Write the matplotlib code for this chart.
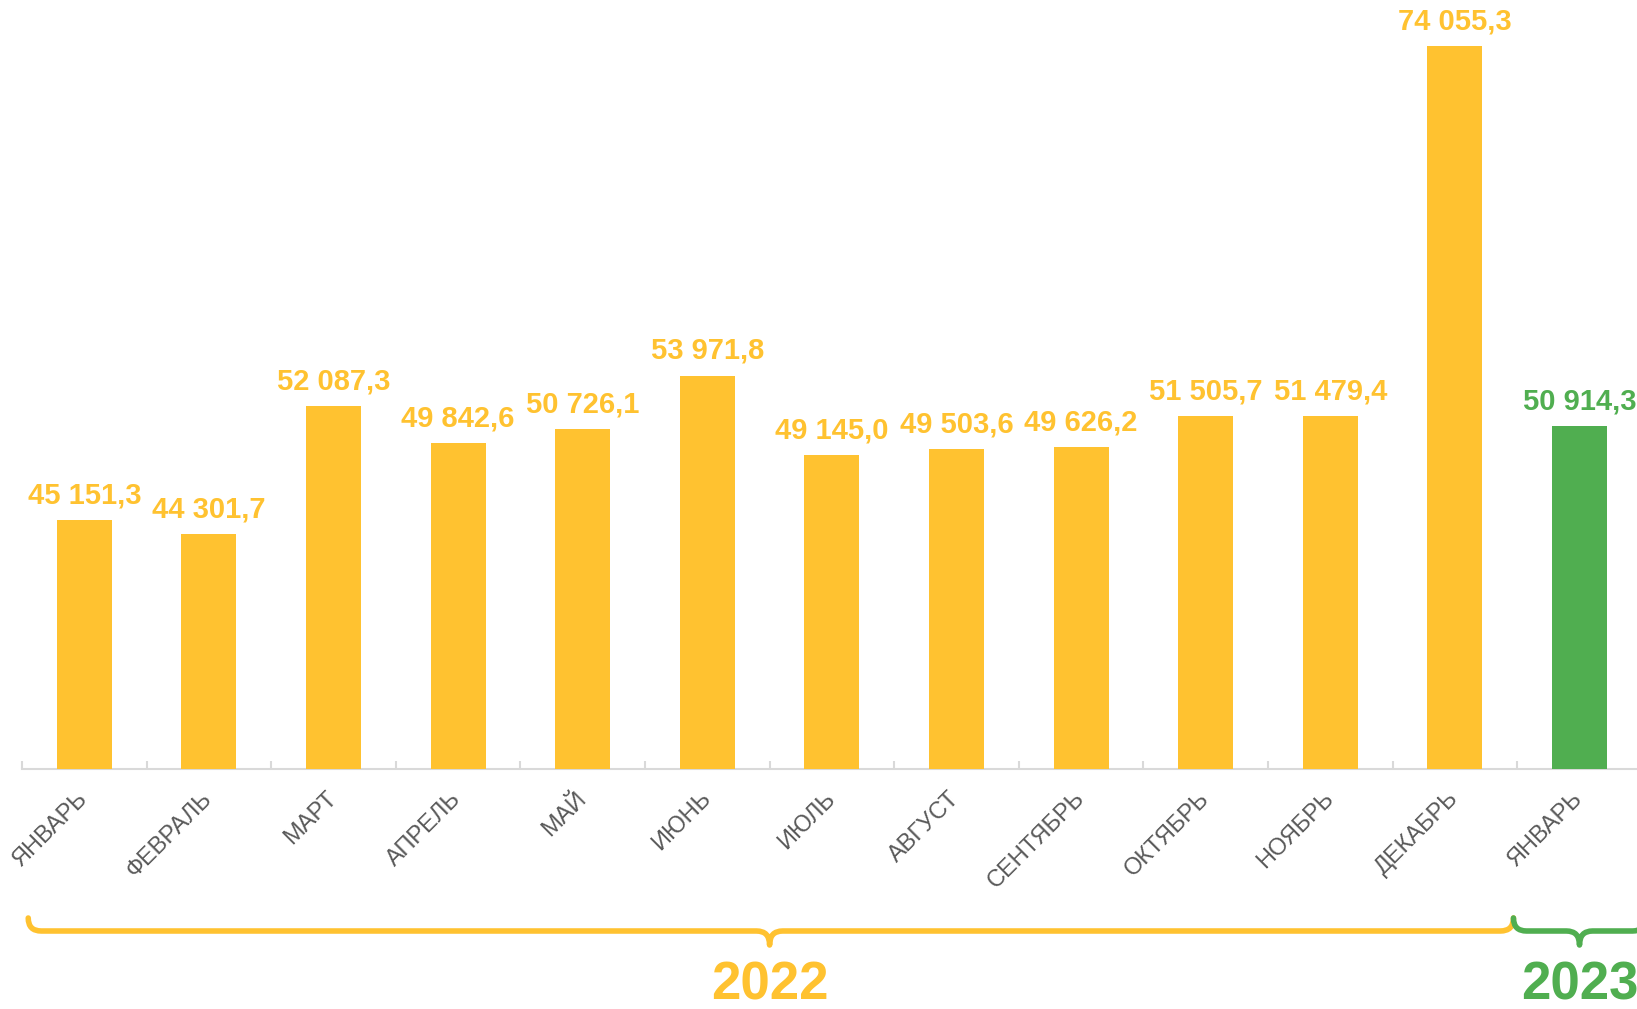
import matplotlib
matplotlib.use("Agg")
from matplotlib import pyplot as plt
from matplotlib.path import Path
from matplotlib.patches import PathPatch
import matplotlib.transforms as mtransforms

plt.rcParams['font.family'] = ['Liberation Sans', 'DejaVu Sans']

months = ["ЯНВАРЬ", "ФЕВРАЛЬ", "МАРТ", "АПРЕЛЬ", "МАЙ", "ИЮНЬ", "ИЮЛЬ",
          "АВГУСТ", "СЕНТЯБРЬ", "ОКТЯБРЬ", "НОЯБРЬ", "ДЕКАБРЬ", "ЯНВАРЬ"]
values = [45151.3, 44301.7, 52087.3, 49842.6, 50726.1, 53971.8, 49145.0,
          49503.6, 49626.2, 51505.7, 51479.4, 74055.3, 50914.3]
labels = ["45 151,3", "44 301,7", "52 087,3", "49 842,6", "50 726,1", "53 971,8",
          "49 145,0", "49 503,6", "49 626,2", "51 505,7", "51 479,4", "74 055,3",
          "50 914,3"]
years = ["2022", "2023"]
year_groups = [(0, 11), (12, 12)]

YELLOW = "#FFC230"
GREEN = "#50AE50"
year_colors = [YELLOW, GREEN]
colors = [YELLOW] * 12 + [GREEN]

W, H = 1637, 1009
fig = plt.figure(figsize=(W / 100, H / 100), dpi=100)
ax = fig.add_axes([22 / W, 240 / H, 13 * 124.6 / W, 755 / H])

x = list(range(len(values)))
ax.bar(x, values, width=0.44, color=colors, zorder=3)
ax.set_xlim(-0.5, len(values) - 0.5)
ax.set_ylim(30000, 76000)

for i, (v, lab) in enumerate(zip(values, labels)):
    ax.annotate(lab, (i, v), xytext=(0, 12), textcoords="offset points",
                ha="center", va="baseline", fontsize=21, fontweight="bold",
                color=colors[i], annotation_clip=False)

for s in ["top", "right", "left"]:
    ax.spines[s].set_visible(False)
ax.spines["bottom"].set_color("#d9d9d9")
ax.spines["bottom"].set_linewidth(1.5)
ax.set_yticks([])
ax.set_xticks(x)
ax.set_xticklabels(months, rotation=45, ha="right", va="center",
                   rotation_mode="anchor", fontsize=17, color="#595959")
ax.tick_params(axis="x", which="major", length=0, pad=19)
ax.set_xticks([i - 0.5 for i in range(len(values) + 1)], minor=True)
ax.tick_params(axis="x", which="minor", direction="in", length=6,
               width=1.5, color="#d9d9d9")

# braces under the month groups
trans = mtransforms.blended_transform_factory(ax.transData, fig.transFigure)
y_top, y_line, y_tip = 1 - 918 / H, 1 - 931 / H, 1 - 945 / H
r = 0.105
edges = [-0.45, 11.47, 12.53]
for k, (g0, g1) in enumerate(year_groups):
    x0, x1 = edges[k], edges[k + 1]
    xc = (g0 + g1) / 2
    verts = [(x0, y_top), (x0, y_line), (x0 + r, y_line),
             (xc - r, y_line), (xc, y_line), (xc, y_tip),
             (xc, y_line), (xc + r, y_line),
             (x1 - r, y_line), (x1, y_line), (x1, y_top)]
    codes = [Path.MOVETO, Path.CURVE3, Path.CURVE3,
             Path.LINETO, Path.CURVE3, Path.CURVE3,
             Path.CURVE3, Path.CURVE3,
             Path.LINETO, Path.CURVE3, Path.CURVE3]
    patch = PathPatch(Path(verts, codes), transform=trans, fill=False,
                      edgecolor=year_colors[k], linewidth=4,
                      capstyle="round", joinstyle="round", clip_on=False)
    fig.add_artist(patch)
    fig.text(xc, 1 - 985 / H, years[k], transform=trans, ha="center",
             va="center", fontsize=38, fontweight="bold",
             color=year_colors[k])

plt.savefig("out.png", dpi=100)
